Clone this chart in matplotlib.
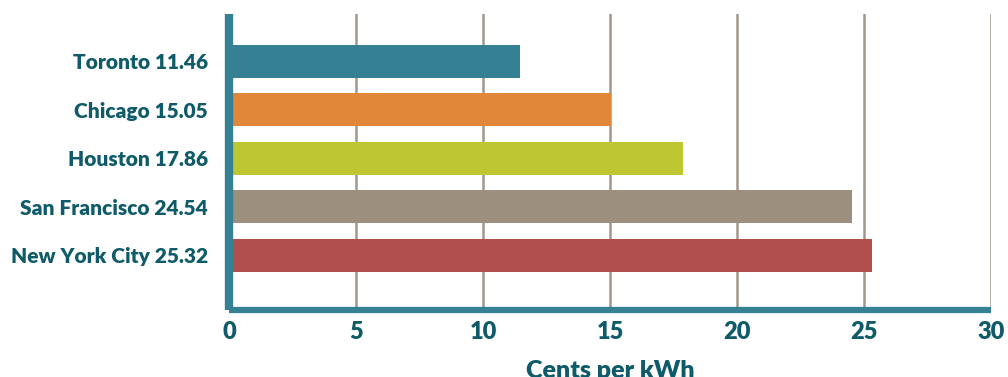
import matplotlib.pyplot as plt

cities = ['Toronto', 'Chicago', 'Houston', 'San Francisco', 'New York City']
cents = [11.46, 15.05, 17.86, 24.54, 25.32]
bar_colors = ['#358093', '#e0873a', '#bec631', '#9c8f7e', '#b04f4c']
xticks = [0, 5, 10, 15, 20, 25, 30]

teal_text = '#0f5b69'
teal_axis = '#358093'
grid_color = '#a2978a'

plt.rcParams['font.family'] = ['Lato', 'DejaVu Sans']

fig = plt.figure(figsize=(10.08, 3.77), dpi=100)
ax = fig.add_axes([0.2272, 0.1777, 0.7559, 0.7852])

pos = list(range(len(cities)))
ax.barh(pos, cents, height=0.68, color=bar_colors, zorder=2)

ax.set_xlim(0, 30)
ax.set_ylim(5.13, -0.98)
ax.set_xticks(xticks)
ax.set_xticklabels([str(t) for t in xticks])
ax.set_yticks(pos)
ax.set_yticklabels([f'{c} {v:.2f}' for c, v in zip(cities, cents)])

ax.grid(axis='x', color=grid_color, linewidth=1.8, zorder=1)
ax.grid(axis='y', visible=False)
ax.set_axisbelow(True)

# thick teal axis lines drawn by hand so the ends stay square
for spine in ax.spines.values():
    spine.set_visible(False)
ax.plot([0, 0], [0, 1], transform=ax.transAxes, color=teal_axis, lw=6,
        solid_capstyle='butt', clip_on=False, zorder=3)
ax.plot([0, 1], [0, 0], transform=ax.transAxes, color=teal_axis, lw=4.5,
        solid_capstyle='butt', clip_on=False, zorder=3)

ax.tick_params(axis='x', length=0, pad=8, labelsize=17, labelcolor=teal_text)
ax.tick_params(axis='y', length=0, pad=15, labelsize=15, labelcolor=teal_text)
for lbl in ax.get_xticklabels() + ax.get_yticklabels():
    lbl.set_fontweight('heavy')

ax.set_xlabel('Cents per kWh', fontsize=18, fontweight='heavy', color=teal_text, labelpad=12)

fig.savefig('out.png', dpi=100, facecolor='white')
